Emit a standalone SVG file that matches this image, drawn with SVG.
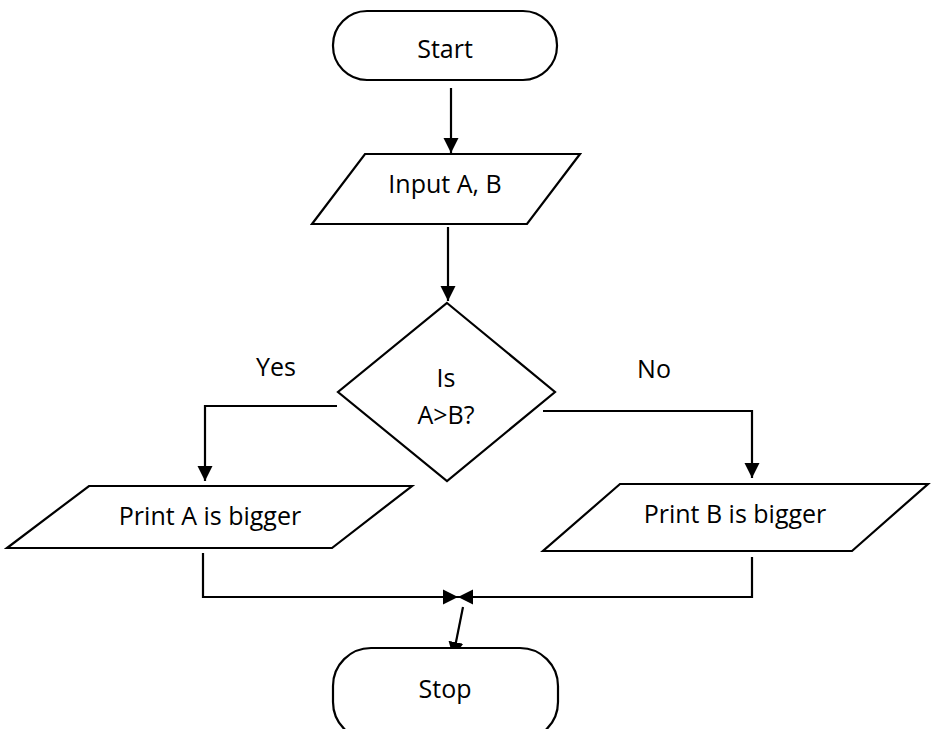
<svg xmlns="http://www.w3.org/2000/svg" width="936" height="729" viewBox="0 0 936 729">
<style>
.shape{fill:#fff;stroke:#000;stroke-width:2.2}
.line{fill:none;stroke:#000;stroke-width:2.2}
.t{font-family:"Open Sans","Liberation Sans",sans-serif;font-size:25px;fill:#000;text-anchor:middle}
</style>
<defs>
<marker id="ah" markerUnits="userSpaceOnUse" markerWidth="16" markerHeight="16" viewBox="0 0 16 16" refX="15" refY="8" orient="auto">
<path d="M0,0.5 L15,8 L0,15.5 Z" fill="#000"/>
</marker>
</defs>
<rect width="936" height="729" fill="#fff"/>
<g id="connectors">
<line class="line" x1="451" y1="88" x2="451" y2="153" marker-end="url(#ah)"/>
<line class="line" x1="448" y1="227" x2="448" y2="301" marker-end="url(#ah)"/>
<polyline class="line" points="337,406 205,406 205,481" marker-end="url(#ah)"/>
<polyline class="line" points="543,411 752,411 752,478" marker-end="url(#ah)"/>
<polyline class="line" points="203,553 203,597 458,597" marker-end="url(#ah)"/>
<polyline class="line" points="752,557 752,597 458,597" marker-end="url(#ah)"/>
<line class="line" x1="463" y1="607" x2="453" y2="657" marker-end="url(#ah)"/>
</g>
<g id="start">
<rect class="shape" x="333" y="11" width="224" height="69" rx="34" ry="34"/>
<text class="t" x="445" y="58">Start</text>
</g>
<g id="input">
<polygon class="shape" points="365,154 580,154 527,224 312,224"/>
<text class="t" x="445" y="193">Input A, B</text>
</g>
<g id="decision">
<polygon class="shape" points="447,303 555,392 447,481 338,392"/>
<text class="t" x="446" y="387">Is</text>
<text class="t" x="446" y="424">A&gt;B?</text>
</g>
<g id="label-yes"><text class="t" x="276" y="376">Yes</text></g>
<g id="label-no"><text class="t" x="654" y="378">No</text></g>
<g id="printA">
<polygon class="shape" points="89,486 412,486 332,548 7,548"/>
<text class="t" x="210" y="525">Print A is bigger</text>
</g>
<g id="printB">
<polygon class="shape" points="620,484 928,484 852,551 543,551"/>
<text class="t" x="735" y="523">Print B is bigger</text>
</g>
<g id="stop">
<rect class="shape" x="333" y="648" width="225" height="92" rx="38" ry="38"/>
<text class="t" x="445" y="698">Stop</text>
</g>
</svg>
